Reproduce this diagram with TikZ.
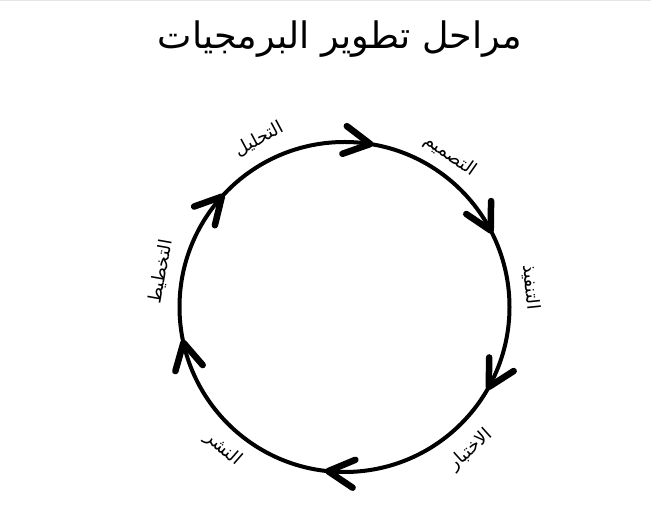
\documentclass[tikz,border=0pt]{standalone}
\usepackage{fontspec}
\newfontfamily\arabicfont[Script=Arabic]{DejaVu Sans}
\TeXXeTstate=1
\begin{document}
\begin{tikzpicture}[x=1pt,y=1pt,
  ring/.style={line width=4pt, draw=black},
  vhead/.style={line width=6.5pt, line cap=round, line join=round, draw=black},
  steplabel/.style={font=\arabicfont\fontsize{18}{20}\selectfont, inner sep=0pt},
  titletext/.style={font=\arabicfont\fontsize{36.5}{40}\selectfont, inner sep=0pt}]
\useasboundingbox (0,0) rectangle (651,513);
\fill[white] (0,0) rectangle (651,513);
\draw[gray!20, line width=1pt] (0,512.5) -- (651,512.5);
\node[titletext] (title) at (340,474) {\beginR مراحل تطوير البرمجيات\endR};
\coordinate (c) at (344.5,206);
\draw[ring] (c) circle (165);
\foreach \a in {81,27.6,-29,-95.7,-167.5,138}{
  \begin{scope}[shift={(c)}, rotate=\a]
    \draw[vhead] (179,26) -- (165,0) -- (151,26);
  \end{scope}
}
\node[steplabel, rotate=28] (l1) at (259,374) {\beginR التحليل\endR};
\node[steplabel, rotate=-35] (l2) at (450,357) {\beginR التصميم\endR};
\node[steplabel, rotate=-84] (l3) at (531,226) {\beginR التنفيذ\endR};
\node[steplabel, rotate=42] (l4) at (471,63) {\beginR الاختبار\endR};
\node[steplabel, rotate=-41] (l5) at (223,64) {\beginR النشر\endR};
\node[steplabel, rotate=80] (l6) at (161,241) {\beginR التخطيط\endR};
\end{tikzpicture}
\end{document}
